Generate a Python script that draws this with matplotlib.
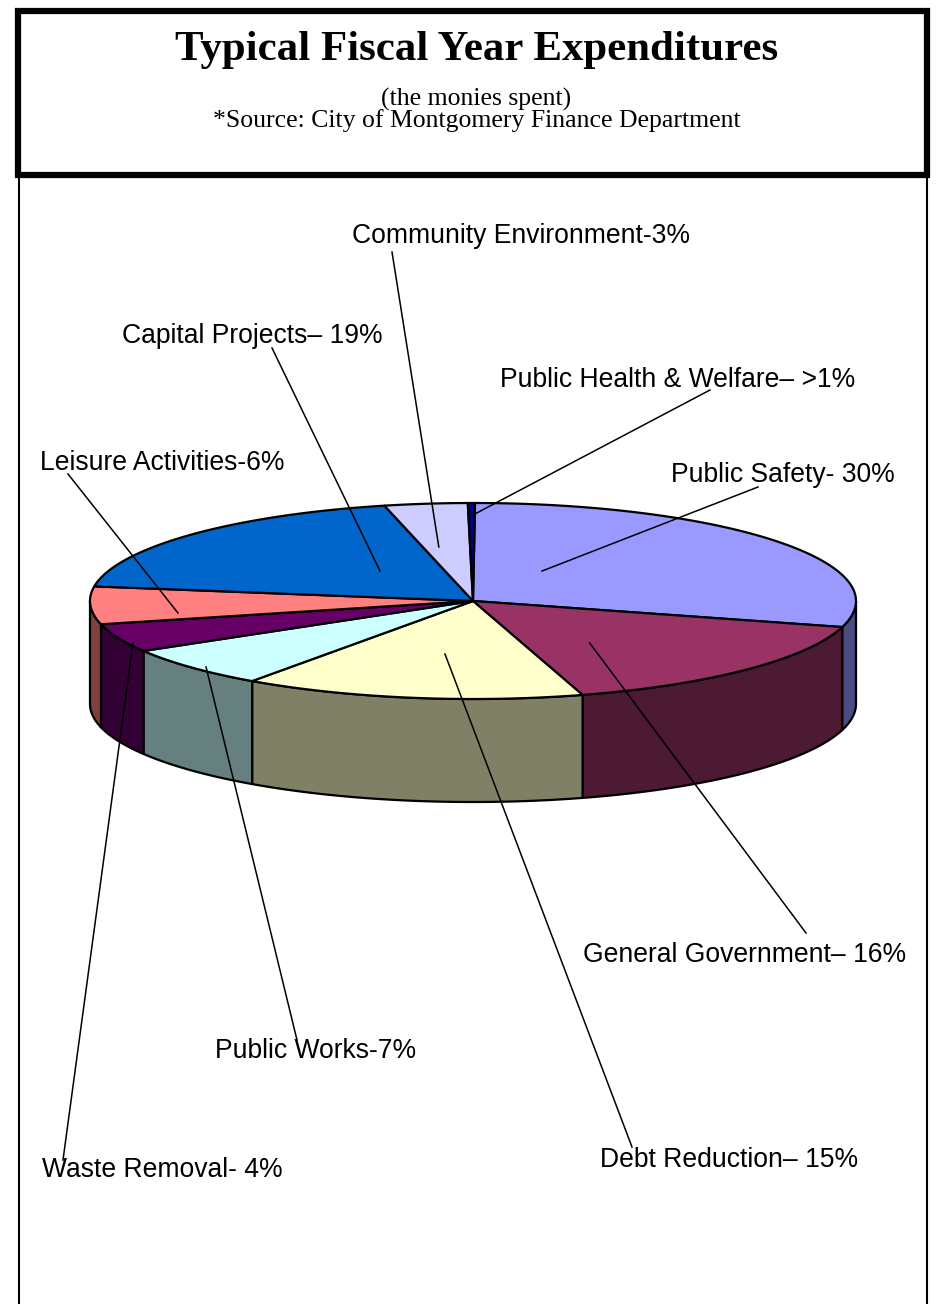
import numpy as np
import matplotlib.pyplot as plt
from matplotlib.patches import Polygon, Rectangle

# slice shares, clockwise from 12 o'clock
categories = ['Public Safety', 'General Government', 'Debt Reduction', 'Public Works',
              'Waste Removal', 'Leisure Activities', 'Capital Projects',
              'Community Environment', 'Public Health & Welfare']
shares = [29.2, 16.1, 14.4, 6.7, 4.7, 6.2, 18.9, 3.5, 0.3]
labels = ['Public Safety- 30%', 'General Government\u2013 16%', 'Debt Reduction\u2013 15%',
          'Public Works-7%', 'Waste Removal- 4%', 'Leisure Activities-6%',
          'Capital Projects\u2013 19%', 'Community Environment-3%',
          'Public Health & Welfare\u2013 >1%']
top_colors = ['#9999FF', '#993366', '#FFFFCC', '#CCFFFF', '#660066',
              '#FF8080', '#0066CC', '#CCCCFF', '#000080']
side_colors = ['#4C4C80', '#4D1A33', '#808066', '#668080', '#330033',
               '#804040', '#003366', '#666680', '#000040']

# layout (pixel coords, y down)
W, H = 937, 1304
cx, cy, rx, ry, depth = 473, 601, 383, 98, 103
start = 0.3
label_pos = [(671, 482), (583, 962), (600, 1167), (215, 1058), (42, 1177),
             (40, 470), (122, 343), (352, 243), (500, 387)]
line_start = [(758, 487), (806, 933), (632, 1147), (297, 1040), (63, 1160),
              (68, 474), (272, 348), (392, 252), (710, 390)]
# leader end inside the pie: (angle deg, fraction of radius)
anchor = [(30.5, 0.355), (144.6, 0.526), (187.7, 0.546), (226, 0.969), (244.2, 0.986),
          (261, 0.78), (321.5, 0.39), (350.8, 0.558), (0.0, 0.878)]


def pt(theta, r=1.0, dz=0.0):
    t = np.radians(theta)
    return cx + r * rx * np.sin(t), cy - r * ry * np.cos(t) + dz


fig = plt.figure(figsize=(W / 100, H / 100), dpi=100)
ax = fig.add_axes([0, 0, 1, 1])
ax.set_xlim(0, W)
ax.set_ylim(H, 0)
ax.axis('off')

angles = start + np.concatenate([[0], np.cumsum(shares)]) * 360 / sum(shares)

# side walls (front half only: 90..270 deg)
for i in range(len(shares)):
    a, b = max(angles[i], 90), min(angles[i + 1], 270)
    if b <= a:
        continue
    th = np.linspace(a, b, 80)
    tx, ty = pt(th)
    bx, by = pt(th[::-1], dz=depth)
    poly = np.column_stack([np.concatenate([tx, bx]), np.concatenate([ty, by])])
    ax.add_patch(Polygon(poly, closed=True, facecolor=side_colors[i],
                         edgecolor='black', lw=1.6, joinstyle='round', zorder=2))

# top faces
for i in range(len(shares)):
    th = np.linspace(angles[i], angles[i + 1], max(int(angles[i + 1] - angles[i]) * 2, 4))
    tx, ty = pt(th)
    poly = np.column_stack([np.concatenate([[cx], tx]), np.concatenate([[cy], ty])])
    ax.add_patch(Polygon(poly, closed=True, facecolor=top_colors[i],
                         edgecolor='black', lw=1.6, joinstyle='round', zorder=3))

# labels and leader lines
for i, lab in enumerate(labels):
    lx, ly = label_pos[i]
    ax.text(lx, ly, lab, fontsize=19.1, family='Liberation Sans',
            ha='left', va='baseline', zorder=5)
    ex, ey = pt(anchor[i][0], anchor[i][1])
    sx, sy = line_start[i]
    ax.plot([sx, ex], [sy, ey], color='black', lw=1.1, zorder=4)

# frame and title box
ax.plot([19, 19], [175, H + 5], color='black', lw=1.5, zorder=1)
ax.plot([927, 927], [175, H + 5], color='black', lw=1.5, zorder=1)
ax.add_patch(Rectangle((18, 11), 909, 164, fill=False, edgecolor='black', lw=4.5, zorder=6))

ax.text(W / 2 + 8, 60, 'Typical Fiscal Year Expenditures', fontsize=30.9, weight='bold',
        family='Liberation Serif', ha='center', va='baseline')
ax.text(W / 2 + 8, 106, '(the monies spent)', fontsize=18.5,
        family='Liberation Serif', ha='center', va='baseline')
ax.text(W / 2 + 8, 127, '*Source: City of Montgomery Finance Department', fontsize=18.5,
        family='Liberation Serif', ha='center', va='baseline')

fig.savefig('out.png', dpi=100)
